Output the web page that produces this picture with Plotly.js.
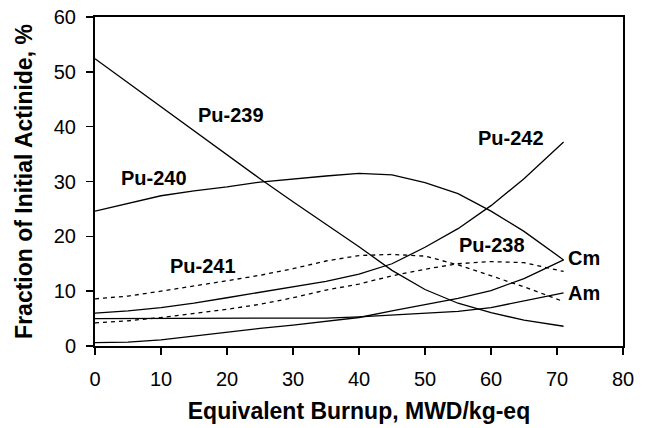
<!DOCTYPE html>
<html>
<head>
<meta charset="utf-8">
<script src="https://cdn.plot.ly/plotly-3.0.1.min.js"></script>
<style>html,body{margin:0;padding:0;background:#fff;}#chart{width:649px;height:428px;}</style>
</head>
<body>
<div id="chart"></div>
<script>
const burnup = [0, 5, 10, 15, 20, 25, 30, 35, 40, 45, 50, 55, 60, 65, 71];
const pu239 = [52.4, 48.0, 43.6, 39.3, 34.9, 30.5, 26.3, 22.2, 18.1, 13.8, 10.3, 7.8, 6.1, 4.7, 3.6];
const pu240 = [24.6, 26.0, 27.4, 28.3, 29.0, 29.9, 30.5, 31.0, 31.5, 31.2, 29.8, 27.8, 24.6, 20.9, 15.7];
const pu242 = [6.0, 6.4, 7.0, 7.8, 8.8, 9.8, 10.9, 11.8, 13.1, 15.0, 18.0, 21.4, 25.6, 30.5, 37.2];
const pu241 = [8.6, 9.1, 10.0, 10.9, 11.9, 12.9, 14.1, 15.5, 16.5, 16.7, 16.4, 14.8, 12.8, 10.8, 8.1];
const pu238 = [4.2, 4.6, 5.2, 5.9, 6.7, 7.6, 8.8, 10.2, 11.3, 12.8, 14.0, 15.0, 15.4, 15.2, 13.6];
const cm = [0.6, 0.7, 1.1, 1.8, 2.6, 3.2, 3.8, 4.5, 5.2, 6.4, 7.5, 8.7, 10.1, 12.3, 15.7];
const am = [5.0, 5.0, 5.0, 5.0, 5.0, 5.1, 5.1, 5.1, 5.3, 5.6, 5.9, 6.3, 7.0, 8.2, 9.7];
const seriesNames = ['Pu-239', 'Pu-240', 'Pu-242', 'Pu-241', 'Pu-238', 'Cm', 'Am'];
const xTickVals = [0, 10, 20, 30, 40, 50, 60, 70, 80];
const yTickVals = [0, 10, 20, 30, 40, 50, 60];

const seriesData = [pu239, pu240, pu242, pu241, pu238, cm, am];
const dashed = [false, false, false, true, true, false, false];
const traces = seriesData.map((ys, i) => ({
  x: burnup, y: ys, name: seriesNames[i], type: 'scatter', mode: 'lines',
  line: {color: '#000', width: 1.3, dash: dashed[i] ? '4px,4px' : 'solid'},
  hoverinfo: 'skip'
}));

const labelFont = {family: 'Liberation Sans, Arial, sans-serif', size: 20, color: '#000', weight: 'bold'};
const labelPos = [
  {x: 20.6, y: 42.1, xanchor: 'center'},
  {x: 8.9, y: 30.7, xanchor: 'center'},
  {x: 63.1, y: 37.9, xanchor: 'center'},
  {x: 16.4, y: 14.5, xanchor: 'center'},
  {x: 60.1, y: 18.4, xanchor: 'center'},
  {x: 71.4, y: 16.0, xanchor: 'left'},
  {x: 71.4, y: 9.6, xanchor: 'left'}
];
const annotations = seriesNames.map((n, i) => ({
  x: labelPos[i].x, y: labelPos[i].y, xref: 'x', yref: 'y',
  text: '<b>' + n + '</b>', showarrow: false, xanchor: labelPos[i].xanchor, yanchor: 'middle',
  font: labelFont
}));

const tickFont = {family: 'Liberation Sans, Arial, sans-serif', size: 20, color: '#000'};
const titleFont = {family: 'Liberation Sans, Arial, sans-serif', size: 23, color: '#000', weight: 'bold'};

const layout = {
  width: 649, height: 428,
  margin: {l: 95, r: 26, t: 17, b: 82},
  paper_bgcolor: '#fff', plot_bgcolor: '#fff',
  showlegend: false,
  xaxis: {
    range: [0, 80], tickvals: xTickVals, ticktext: xTickVals.map(String),
    showgrid: false, zeroline: false,
    showline: true, linecolor: '#000', linewidth: 2, mirror: true,
    ticks: 'outside', ticklen: 7, tickwidth: 1.5, tickcolor: '#000',
    tickfont: tickFont, ticklabelstandoff: 7,
    title: {text: '<b>Equivalent Burnup, MWD/kg-eq</b>', font: titleFont, standoff: 14}
  },
  yaxis: {
    range: [0, 60], tickvals: yTickVals, ticktext: yTickVals.map(String),
    showgrid: false, zeroline: false,
    showline: true, linecolor: '#000', linewidth: 2, mirror: true,
    ticks: 'outside', ticklen: 7, tickwidth: 1.5, tickcolor: '#000',
    tickfont: tickFont, ticklabelstandoff: 6,
    title: {text: '<b>Fraction of Initial Actinide, %</b>', font: titleFont, standoff: 15}
  },
  annotations: annotations
};

Plotly.newPlot('chart', traces, layout, {staticPlot: true, displayModeBar: false});
</script>
</body>
</html>
